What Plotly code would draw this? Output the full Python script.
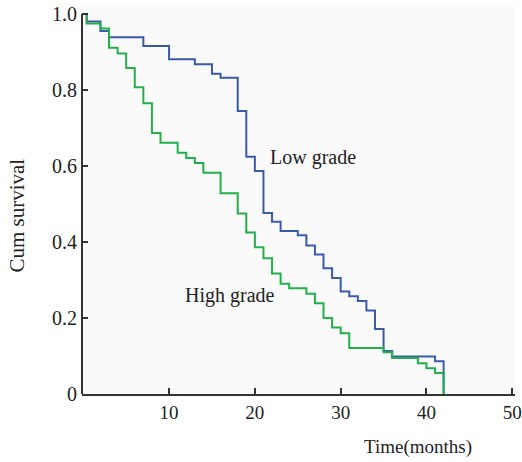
import plotly.graph_objects as go

# Kaplan-Meier step data (months, cumulative survival)
low_t = [0, 0.4, 2, 3, 7, 10, 13, 15, 16, 18, 19, 20, 21, 22, 23, 25, 26, 27, 28, 29,
         30, 31, 32, 33, 34, 35, 36, 41, 42]
low_s = [1.0, 0.98, 0.955, 0.939, 0.916, 0.881, 0.868, 0.843, 0.832, 0.745, 0.624, 0.587,
         0.476, 0.453, 0.429, 0.418, 0.391, 0.367, 0.331, 0.305, 0.270, 0.257, 0.245,
         0.220, 0.171, 0.113, 0.099, 0.086, 0.0]

high_t = [0, 0.4, 2, 3, 4, 5, 6, 7, 8, 9, 11, 12, 13, 14, 16, 18, 19, 20, 21, 22, 23, 24,
          26, 27, 28, 29, 30, 31, 35, 36, 39, 40, 41, 42]
high_s = [1.0, 0.975, 0.962, 0.911, 0.896, 0.858, 0.807, 0.765, 0.687, 0.661, 0.635, 0.621,
          0.608, 0.582, 0.528, 0.475, 0.425, 0.386, 0.357, 0.317, 0.290, 0.278, 0.264,
          0.239, 0.200, 0.175, 0.160, 0.121, 0.110, 0.095, 0.081, 0.068, 0.055, 0.0]

x_ticks = [10, 20, 30, 40, 50]
x_tick_text = ["10", "20", "30", "40", "50"]
y_ticks = [0, 0.2, 0.4, 0.6, 0.8, 1.0]
y_tick_text = ["0", "0.2", "0.4", "0.6", "0.8", "1.0"]

BLUE = "#3a5bab"
GREEN = "#22b04b"
FONT = "Liberation Serif"
AX = "#333333"
TXT = "#222222"

fig = go.Figure()
fig.add_trace(go.Scatter(x=low_t, y=low_s, mode="lines", line=dict(color=BLUE, width=2, shape="hv"),
                         name="Low grade", showlegend=False, hoverinfo="skip"))
fig.add_trace(go.Scatter(x=high_t, y=high_s, mode="lines", line=dict(color=GREEN, width=2, shape="hv"),
                         name="High grade", showlegend=False, hoverinfo="skip"))

fig.update_layout(
    width=522, height=462,
    margin=dict(l=82, r=7, t=6, b=68),
    paper_bgcolor="white",
    plot_bgcolor="#fafafa",
    font=dict(family=FONT, size=19, color=TXT),
    xaxis=dict(range=[-0.15, 50.32], tickvals=x_ticks, ticktext=x_tick_text,
               showgrid=False, zeroline=False, showline=True, linecolor=AX, linewidth=2,
               ticks="inside", ticklen=6, tickwidth=2, tickcolor=AX, automargin=False,
               tickfont=dict(family=FONT, size=19, color=TXT)),
    yaxis=dict(range=[0, 1.021], tickvals=y_ticks, ticktext=y_tick_text,
               showgrid=False, zeroline=False, showline=False, automargin=False,
               ticks="inside", ticklen=6, tickwidth=2, tickcolor=AX,
               ticklabelstandoff=4,
               tickfont=dict(family=FONT, size=20, color=TXT)),
    shapes=[dict(type="line", xref="paper", yref="y", x0=0, x1=0, y0=0, y1=1.0,
                 line=dict(color=AX, width=2))],
    annotations=[
        dict(text="Low grade", x=21.5, y=0.623, xref="x", yref="y", xanchor="left",
             yanchor="middle", showarrow=False, font=dict(family=FONT, size=20, color=TXT)),
        dict(text="High grade", x=11.65, y=0.26, xref="x", yref="y", xanchor="left",
             yanchor="middle", showarrow=False, font=dict(family=FONT, size=20, color=TXT)),
        dict(text="Cum survival", x=-0.149, y=0.461, xref="paper", yref="paper", textangle=-90,
             xanchor="center", yanchor="middle", showarrow=False,
             font=dict(family=FONT, size=21, color=TXT)),
        dict(text="Time(months)", x=0.776, y=-0.137, xref="paper", yref="paper",
             xanchor="center", yanchor="middle", showarrow=False,
             font=dict(family=FONT, size=19, color=TXT)),
    ],
)

fig.write_html("out.html", config={"displayModeBar": False},
               post_script="document.body.style.margin='0';")
